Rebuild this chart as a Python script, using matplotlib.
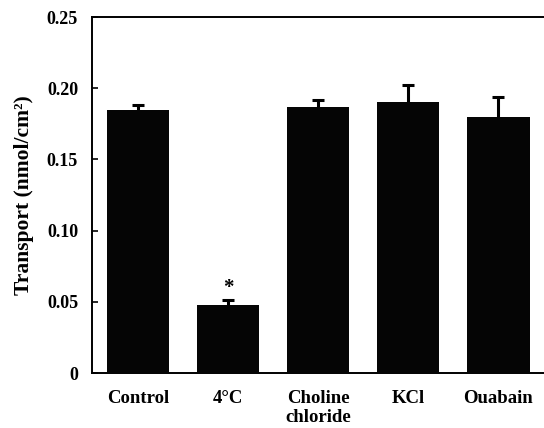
import numpy as np
import matplotlib
matplotlib.use("Agg")
import matplotlib.pyplot as plt

CONDITIONS = ["Control", "4°C", "Choline\nchloride", "KCl", "Ouabain"]
TRANSPORT = [0.1845, 0.048, 0.1865, 0.190, 0.1795]
SEM = [0.0035, 0.003, 0.0055, 0.012, 0.0145]
SIGNIFICANT = [False, True, False, False, False]

plt.rcParams["font.family"] = ["Liberation Serif", "DejaVu Serif"]
plt.rcParams["font.weight"] = "bold"

fig = plt.figure(figsize=(5.44, 4.28), dpi=100)
ax = fig.add_axes([92 / 544, 55 / 428, 456 / 544, 356 / 428])

x = np.arange(len(CONDITIONS))
# bars drawn over the error bars so only the upper half shows
ax.bar(x, TRANSPORT, width=0.69, color="#050505", zorder=3)
ax.errorbar(x, TRANSPORT, yerr=SEM, fmt="none",
            ecolor="black", elinewidth=2.2, capsize=4, capthick=2.2, zorder=2)

for xi, val, err, sig in zip(x, TRANSPORT, SEM, SIGNIFICANT):
    if sig:
        ax.text(xi, val + err + 0.002, "*", ha="center", va="bottom",
                fontsize=15, fontweight="bold")

ax.set_xlim(-0.51, 4.55)
ax.set_ylim(0, 0.25)
ax.set_yticks([0, 0.05, 0.10, 0.15, 0.20, 0.25])
ax.set_yticklabels(["0", "0.05", "0.10", "0.15", "0.20", "0.25"])
ax.set_xticks(x)
ax.set_xticklabels(CONDITIONS, fontsize=13.5, fontweight="bold", linespacing=1.15)
ax.tick_params(axis="x", length=0, pad=12)
ax.tick_params(axis="y", direction="in", length=4, width=1.2, pad=10,
               labelsize=13)
for lab in ax.get_yticklabels():
    lab.set_fontweight("bold")
ax.spines["right"].set_visible(False)
for side in ["left", "top", "bottom"]:
    ax.spines[side].set_linewidth(1.4)

ax.set_ylabel("Transport (nmol/cm²)", fontsize=15.5,
              fontweight="bold", labelpad=9)

fig.savefig("out.png", dpi=100)
